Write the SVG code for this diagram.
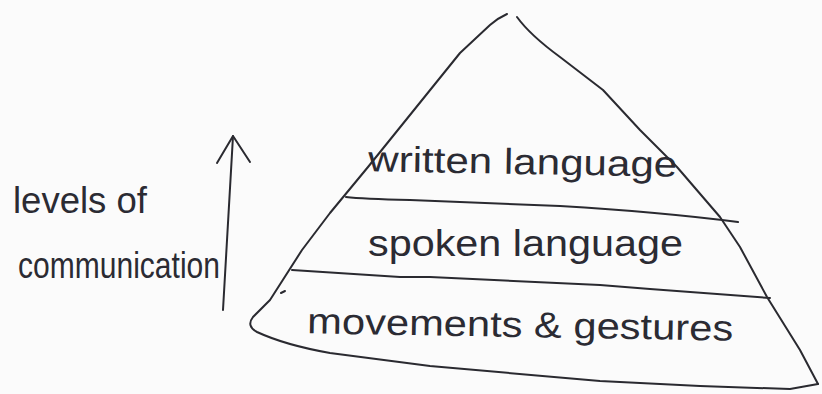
<svg xmlns="http://www.w3.org/2000/svg" width="822" height="394" viewBox="0 0 822 394">
<style>
.ink{fill:none;stroke:#2a2a30;stroke-width:2;stroke-linecap:round;stroke-linejoin:round}
.hand{font-family:"Liberation Sans","DejaVu Sans",sans-serif;font-size:36px;fill:#2b2b33}
</style>
<rect width="822" height="394" fill="#fbfbfb"/>
<g id="pyramid">
<path class="ink" d="M507,14 Q498,18 490,25 L460,53 L368,167 L330,213 L302,250 L270,300 L253,317 Q246,326 257,332 Q285,345 330,353 L430,366 L600,381 L700,386 L790,389 L818,384"/>
<path class="ink" d="M517,17 Q530,35 560,57 L603,90 L640,130 L677,167 L720,217 L740,247 L767,297 L800,350 L818,384"/>
<path class="ink" d="M281,293 L285,291"/>
</g>
<g id="tier-written">
<path class="ink" d="M346,197 Q362,199 410,200 L560,206 Q660,212 738,222"/>
<text class="hand" x="368" y="174" textLength="309" lengthAdjust="spacingAndGlyphs" transform="rotate(1 520 174)">written language</text>
</g>
<g id="tier-spoken">
<path class="ink" d="M292,270 L400,277 L430,277 L600,285 L650,289 L770,298"/>
<text class="hand" x="368" y="256" textLength="315" lengthAdjust="spacingAndGlyphs">spoken language</text>
</g>
<g id="tier-movements">
<text class="hand" x="307" y="337" textLength="426" lengthAdjust="spacingAndGlyphs" transform="rotate(1 520 337)">movements &amp; gestures</text>
</g>
<g id="label-levels">
<text class="hand" x="13" y="213" font-size="34" textLength="134" lengthAdjust="spacingAndGlyphs">levels of</text>
<text class="hand" x="18" y="278" font-size="32" textLength="202" lengthAdjust="spacingAndGlyphs">communication</text>
</g>
<g id="connectors">
<path class="ink" d="M233,136 L223,310"/>
<path class="ink" d="M217,163 L233,136 L250,162"/>
</g>
</svg>
